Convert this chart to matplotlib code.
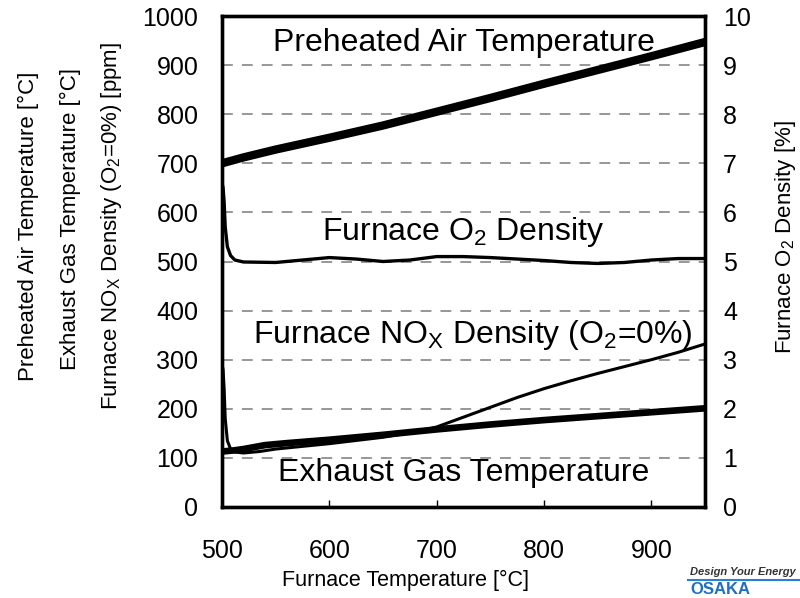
import matplotlib
matplotlib.use("Agg")
import matplotlib.pyplot as plt
from matplotlib.lines import Line2D

plt.rcParams['font.family'] = ['Liberation Sans', 'DejaVu Sans']
plt.rcParams['mathtext.default'] = 'regular'

# Furnace temperature [°C]
air_x = [500, 520, 550, 600, 650, 700, 750, 800, 850, 900, 950]
air_y = [700, 712, 728, 752, 777, 805, 833, 862, 890, 918, 947]

exh_x = [500, 510, 520, 540, 560, 600, 650, 700, 750, 800, 850, 900, 950]
exh_y = [113, 115, 118, 126, 130, 137, 147, 158, 168, 177, 185, 193, 201]

nox_x = [500, 501, 502, 503, 505, 508, 512, 520, 535, 550, 600, 650, 680, 700,
         725, 750, 775, 800, 825, 850, 875, 900, 925, 950]
nox_y = [290, 280, 240, 180, 135, 118, 112, 110, 113, 118, 129, 142, 153, 163,
         183, 203, 223, 241, 257, 272, 286, 300, 315, 332]

o2_x = [500, 501, 502, 503, 505, 508, 512, 520, 550, 575, 600, 625, 650, 675, 700,
        725, 750, 775, 800, 825, 850, 875, 900, 925, 950]
o2_y = [6.6, 6.5, 6.2, 5.7, 5.3, 5.12, 5.03, 4.99, 4.98, 5.03, 5.08, 5.05, 5.0,
        5.03, 5.1, 5.1, 5.08, 5.05, 5.02, 4.98, 4.96, 4.98, 5.03, 5.06, 5.06]

x_ticks = [500, 600, 700, 800, 900]
y_ticks = [0, 100, 200, 300, 400, 500, 600, 700, 800, 900, 1000]
y2_ticks = [0, 1, 2, 3, 4, 5, 6, 7, 8, 9, 10]

fig = plt.figure(figsize=(8, 5.98), dpi=100)
ax = fig.add_axes([222/800, 1-507/598, (705-222)/800, (507-16)/598])
ax2 = ax.twinx()

ax.set_xlim(500, 950)
ax.set_ylim(0, 1000)
ax2.set_ylim(0, 10)

for yv in y_ticks[1:-1]:
    ax.axhline(yv, color='#8f8f8f', lw=1.3, ls=(0, (6, 5)), zorder=1)

ax.plot(air_x, air_y, color='black', lw=6.0, solid_capstyle='butt', zorder=3)
ax.plot(exh_x, exh_y, color='black', lw=4.8, solid_capstyle='butt', zorder=3)
ax.plot(nox_x, nox_y, color='black', lw=2.2, zorder=3)
ax2.plot(o2_x, o2_y, color='black', lw=2.4, zorder=3)

ax.set_xticks(x_ticks)
ax.set_yticks(y_ticks)
ax2.set_yticks(y2_ticks)
ax.tick_params(axis='x', direction='in', length=5, width=1, pad=23, labelsize=18)
ax.tick_params(axis='y', length=0, pad=17, labelsize=18)
ax2.tick_params(axis='y', length=0, pad=13, labelsize=18)

for a in (ax, ax2):
    for s in a.spines.values():
        s.set_linewidth(2.4)

ax.text(0.5, 0.945, 'Preheated Air Temperature', transform=ax.transAxes,
        ha='center', va='center', fontsize=23)
ax.text(0.5, 0.56, 'Furnace O$_2$ Density', transform=ax.transAxes,
        ha='center', va='center', fontsize=23)
ax.text(0.52, 0.35, 'Furnace NO$_X$ Density (O$_2$=0%)', transform=ax.transAxes,
        ha='center', va='center', fontsize=23)
ax.text(0.5, 0.07, 'Exhaust Gas Temperature', transform=ax.transAxes,
        ha='center', va='center', fontsize=23)

fig.text(28/800, 1-226/598, 'Preheated Air Temperature [°C]', rotation=90,
         ha='center', va='center', fontsize=16)
fig.text(70/800, 1-219/598, 'Exhaust Gas Temperature [°C]', rotation=90,
         ha='center', va='center', fontsize=16)
fig.text(111/800, 1-226/598, 'Furnace NO$_X$ Density (O$_2$=0%) [ppm]', rotation=90,
         ha='center', va='center', fontsize=16)
fig.text(785/800, 1-237/598, 'Furnace O$_2$ Density [%]', rotation=90,
         ha='center', va='center', fontsize=16)
fig.text(406/800, 1-580/598, 'Furnace Temperature [°C]',
         ha='center', va='center', fontsize=15.5)

# partial logo in the corner
fig.text(690/800, 1-572/598, 'Design Your Energy', fontsize=8, style='italic',
         fontweight='bold', color='#333333', ha='left', va='center')
fig.add_artist(Line2D([688/800, 1.0], [1-580/598, 1-580/598], color='#2a7fd0',
                      lw=1.5, transform=fig.transFigure))
fig.text(690/800, 1-590/598, 'OSAKA', fontsize=12, fontweight='bold',
         color='#1f6fc0', ha='left', va='center')

fig.savefig('out.png', dpi=100)
